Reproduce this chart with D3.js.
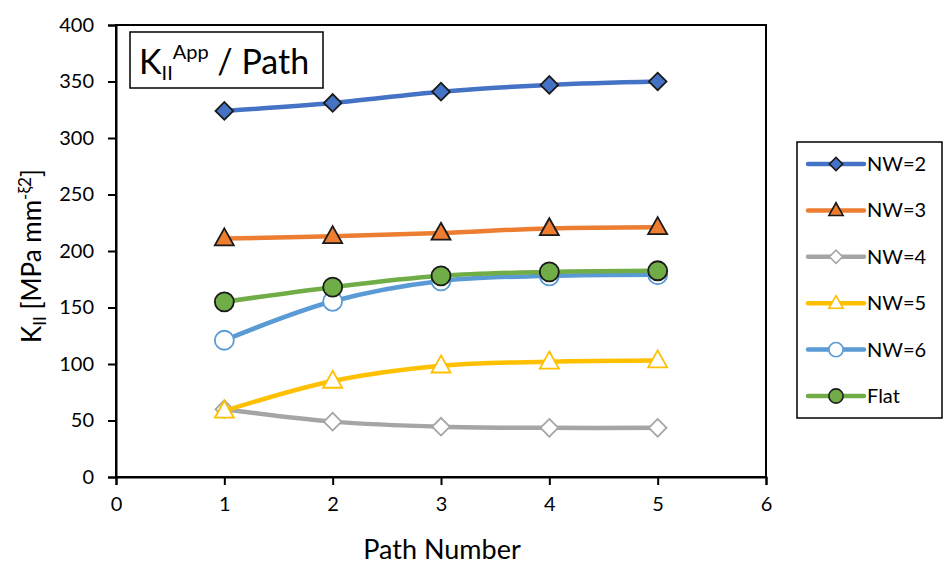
<!DOCTYPE html>
<html><head><meta charset="utf-8">
<script src="https://cdn.jsdelivr.net/npm/d3@7"></script>
<style>body{margin:0;background:#fff}svg{display:block;font-family:Lato,"Open Sans",sans-serif}</style>
</head><body><svg id="c" width="948" height="571"></svg>
<script>
const paths = [1, 2, 3, 4, 5];
const seriesNames = ["NW=2", "NW=3", "NW=4", "NW=5", "NW=6", "Flat"];
const nw2 = [324, 331, 341, 347, 350];
const nw3 = [211, 213, 216, 220, 221];
const nw4 = [60, 49, 44.5, 43.5, 43.5];
const nw5 = [58.5, 85, 98.5, 102, 103];
const nw6 = [121, 155.5, 173.5, 178, 179];
const flat = [155, 168, 178, 181.5, 182.5];
const xTicks = [0, 1, 2, 3, 4, 5, 6];
const yTicks = [0, 50, 100, 150, 200, 250, 300, 350, 400];

const colors = ["#4472C4", "#ED7D31", "#A5A5A5", "#FFC000", "#5B9BD5", "#70AD47"];
const markers = [
  {type: "diamond", fill: "#4472C4", stroke: "#1a1a1a"},
  {type: "triangle", fill: "#ED7D31", stroke: "#1a1a1a"},
  {type: "diamond", fill: "#fff", stroke: "#A5A5A5"},
  {type: "triangle", fill: "#fff", stroke: "#FFC000"},
  {type: "circle", fill: "#fff", stroke: "#5B9BD5"},
  {type: "circle", fill: "#70AD47", stroke: "#1a1a1a"}
];
const allValues = [nw2, nw3, nw4, nw5, nw6, flat];

const svg = d3.select("#c");
const L = 116, R = 766, T = 25, B = 477;
const x = d3.scaleLinear().domain([0, 6]).range([L, R]);
const y = d3.scaleLinear().domain([0, 400]).range([B, T]);

svg.append("rect").attr("x", L).attr("y", T).attr("width", R - L).attr("height", B - T)
  .attr("fill", "none").attr("stroke", "#000").attr("stroke-width", 2);

const yAxis = svg.append("g").attr("transform", `translate(${L},0)`)
  .call(d3.axisLeft(y).tickValues(yTicks).tickSize(8).tickPadding(14).tickFormat(d3.format("d")));
const xAxis = svg.append("g").attr("transform", `translate(0,${B})`)
  .call(d3.axisBottom(x).tickValues(xTicks).tickSize(8).tickPadding(12).tickFormat(d3.format("d")));
[yAxis, xAxis].forEach(a => {
  a.select(".domain").attr("stroke", "#000").attr("stroke-width", 2);
  a.selectAll(".tick line").attr("stroke", "#000").attr("stroke-width", 2);
  a.selectAll(".tick text").attr("fill", "#000").style("font-size", "20px").style("font-family", "Lato");
});

function markerShape(sel, type, scale) {
  if (type === "diamond") {
    const s = 12.5 * scale;
    return sel.append("rect").attr("x", -s / 2).attr("y", -s / 2).attr("width", s).attr("height", s);
  }
  if (type === "circle") {
    return sel.append("circle").attr("r", 9.5 * scale);
  }
  const w = 19 * scale, h = 17 * scale;
  return sel.append("path").attr("d", `M0,${-h * 0.6}L${w / 2},${h * 0.4}L${-w / 2},${h * 0.4}Z`);
}

const line = d3.line().x((d, i) => x(paths[i])).y(d => y(d)).curve(d3.curveCatmullRom.alpha(0.5));

allValues.forEach((vals, si) => {
  const g = svg.append("g");
  g.append("path").attr("d", line(vals)).attr("fill", "none")
    .attr("stroke", colors[si]).attr("stroke-width", 4.5).attr("stroke-linecap", "round");
  const m = markers[si];
  vals.forEach((d, i) => {
    const mg = g.append("g").attr("transform", `translate(${x(paths[i])},${y(d)})${m.type === "diamond" ? " rotate(45)" : ""}`);
    markerShape(mg, m.type, 1).attr("fill", m.fill).attr("stroke", m.stroke).attr("stroke-width", 1.8);
  });
});

// title box
svg.append("rect").attr("x", 130).attr("y", 32).attr("width", 193).attr("height", 56)
  .attr("fill", "#fff").attr("stroke", "#000").attr("stroke-width", 1.5);
const tt = svg.append("text").attr("x", 139).attr("y", 74).style("font-size", "34px").attr("fill", "#000");
tt.append("tspan").text("K");
tt.append("tspan").text("II").style("font-size", "20px").attr("dy", 6);
tt.append("tspan").text("App").style("font-size", "20px").attr("dy", -21);
tt.append("tspan").text(" / Path").attr("dy", 15);

// y-axis label
const yl = svg.append("text").attr("transform", `translate(41,256) rotate(-90)`)
  .attr("text-anchor", "middle").style("font-size", "26px").attr("fill", "#000");
yl.append("tspan").text("K");
yl.append("tspan").text("II").style("font-size", "17px").attr("dy", 5);
yl.append("tspan").text(" [MPa mm").attr("dy", -5);
yl.append("tspan").text("-ξ2").style("font-size", "17px").attr("dy", -10);
yl.append("tspan").text("]").attr("dy", 10);

// x-axis label
svg.append("text").attr("x", (L + R) / 2 + 1).attr("y", 559).attr("text-anchor", "middle")
  .style("font-size", "27px").attr("fill", "#000").text("Path Number");

// legend
svg.append("rect").attr("x", 797).attr("y", 142).attr("width", 145).attr("height", 276)
  .attr("fill", "#fff").attr("stroke", "#000").attr("stroke-width", 1.5);
const legY = d3.scalePoint().domain(seriesNames).range([164, 396]);
seriesNames.forEach((name, si) => {
  const yy = legY(name);
  const g = svg.append("g");
  g.append("line").attr("x1", 808).attr("x2", 864).attr("y1", yy).attr("y2", yy)
    .attr("stroke", colors[si]).attr("stroke-width", 4.5).attr("stroke-linecap", "round");
  const m = markers[si];
  const mg = g.append("g").attr("transform", `translate(836,${yy})${m.type === "diamond" ? " rotate(45)" : ""}`);
  markerShape(mg, m.type, 0.75).attr("fill", m.fill).attr("stroke", m.stroke).attr("stroke-width", 1.6);
  g.append("text").attr("x", 867).attr("y", yy + 7).style("font-size", "20px").attr("fill", "#000").text(name);
});
</script></body></html>
